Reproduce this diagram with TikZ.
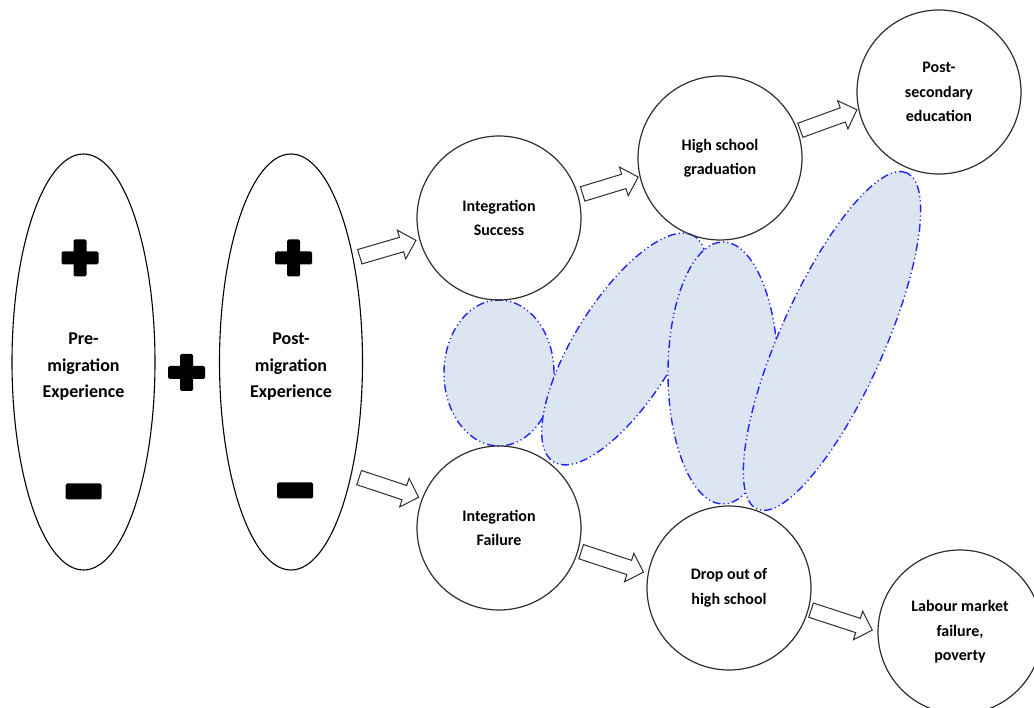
\documentclass[tikz,border=0pt]{standalone}
\usepackage{fontspec}
\setmainfont{Carlito}
\usepackage{tikz}
\usetikzlibrary{positioning, shapes, calc}

\definecolor{overlapfill}{RGB}{220,230,242}
\definecolor{overlapline}{RGB}{35,35,245}
\definecolor{ringline}{RGB}{45,45,45}

% hollow arrow from #1 to #2, #3 gap at the tail, #4 gap at the tip
\newcommand{\blockarrow}[4]{%
  \draw[blockarrow] let \p1=(#1), \p2=(#2), \n1={atan2(\y2-\y1,\x2-\x1)},
    \n2={veclen(\x2-\x1,\y2-\y1)-#4} in
    [shift={(\p1)}, rotate=\n1]
    (#3,-7.5pt) -- ({\n2-15pt},-7.5pt) -- ({\n2-15pt},-15pt) -- (\n2,0pt)
    -- ({\n2-15pt},15pt) -- ({\n2-15pt},7.5pt) -- (#3,7.5pt) -- cycle;}
\newcommand{\plussign}[1]{%
  \fill[rounded corners=1.5pt] ($(#1)+(-18.5,-6.5)$) rectangle ($(#1)+(18.5,6.5)$);
  \fill[rounded corners=1.5pt] ($(#1)+(-6.5,-18.5)$) rectangle ($(#1)+(6.5,18.5)$);}
\newcommand{\minussign}[1]{%
  \fill[rounded corners=1.5pt] ($(#1)+(-18,-8)$) rectangle ($(#1)+(18,8)$);}

\begin{document}
\begin{tikzpicture}[x=1pt, y=-1pt,
  stage/.style={circle, draw=ringline, line width=1.2pt, minimum size=164pt,
    inner sep=0pt, outer sep=0pt, align=center,
    font=\bfseries\fontsize{16}{24.5}\selectfont},
  bigoval/.style={ellipse, draw, line width=1.1pt, minimum width=143pt,
    minimum height=416pt, inner sep=0pt, outer sep=0pt},
  ovaltext/.style={align=center, inner sep=0pt,
    font=\bfseries\fontsize{18}{26.5}\selectfont},
  overlap/.style={draw=overlapline, fill=overlapfill, line width=1.4pt,
    dash pattern=on 8pt off 3pt on 1.2pt off 3pt on 1.2pt off 3pt},
  blockarrow/.style={draw=ringline, fill=white, line width=1pt}]
  \useasboundingbox (0,0) rectangle (1034,708);

  % shaded overlaps
  \draw[overlap] (499,373) ellipse [x radius=55pt, y radius=73pt];
  \draw[overlap, rotate around={58:(624,349)}] (624,349) ellipse [x radius=133pt, y radius=50pt];
  \draw[overlap] (723,373) ellipse [x radius=55pt, y radius=131pt];
  \draw[overlap, rotate around={66:(832,341)}] (832,341) ellipse [x radius=184pt, y radius=52pt];

  \node[bigoval] (pre) at (83.5,362) {};
  \node[ovaltext] (pretext) at ($(pre)+(0,5)$) {Pre-\\migration\\Experience};
  \node[bigoval] (post) at (291,362) {};
  \node[ovaltext] (posttext) at ($(post)+(0,5)$) {Post-\\migration\\Experience};
  \node[stage] (succ) at (499,218) {Integration\\Success};
  \node[stage] (grad) at (720,158) {High school\\graduation};
  \node[stage] (postsec) at (939,92) {Post-\\secondary\\education};
  \node[stage] (fail) at (499,528) {Integration\\Failure};
  \node[stage] (drop) at (729,588) {Drop out of\\high school};
  \node[stage] (labour) at (960,632) {Labour market\\failure,\\poverty};

  \plussign{80,258}
  \minussign{83.5,491.5}
  \plussign{186.5,372.5}
  \plussign{293.5,258}
  \minussign{295,490.5}

  \blockarrow{post.59}{succ.195}{7pt}{4pt}
  \blockarrow{post.-62}{fail.159}{8.5pt}{4pt}
  \blockarrow{succ.16}{grad.193}{5pt}{2pt}
  \blockarrow{grad.19}{postsec.192}{3pt}{2pt}
  \blockarrow{fail.-16}{drop.170}{3.5pt}{5pt}
  \blockarrow{drop.-15}{labour.180}{3pt}{6pt}
\end{tikzpicture}
\end{document}
